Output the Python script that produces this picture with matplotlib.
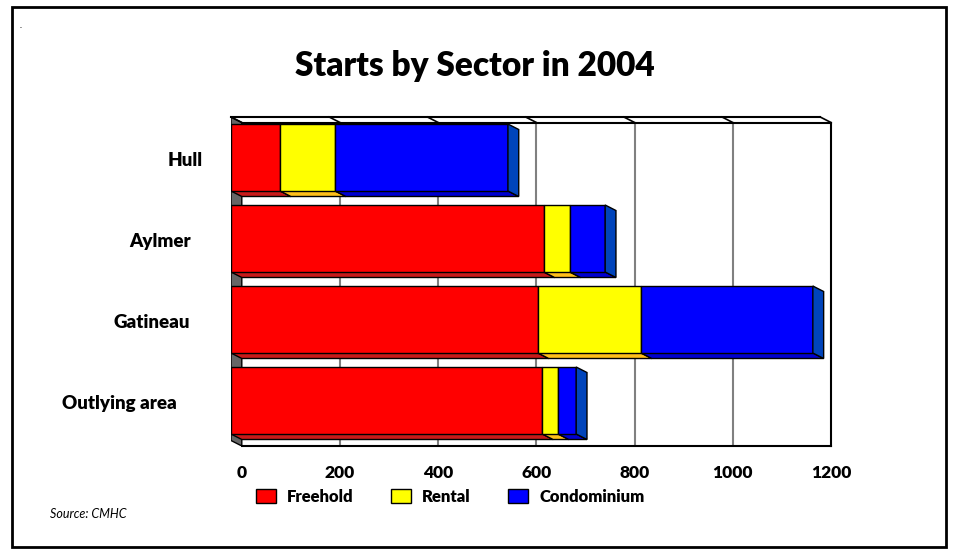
import numpy as np
import matplotlib
matplotlib.use('Agg')
from matplotlib import pyplot as plt
from matplotlib.patches import Polygon, Rectangle
import matplotlib.transforms as mtransforms

# data
regions = ['Hull', 'Aylmer', 'Gatineau', 'Outlying area']
freehold = [100, 637, 625, 634]
rental = [112, 53, 210, 32]
condo = [352, 72, 350, 37]
series_names = ['Freehold', 'Rental', 'Condominium']
x_ticks = [0, 200, 400, 600, 800, 1000, 1200]

# styling
front_cols = ['#ff0000', '#ffff00', '#0000ff']
bottom_cols = ['#c81a1a', '#ffbf1a', '#0000d0']
side_col = '#0044bb'
wall_col = '#666666'
DX = 22        # depth offset, x units
DY = 0.068     # depth offset, y units (downwards)
BAR_H = 0.827
label_right_px = [203, 191, 190, 177]
WEIGHT = 'heavy'

plt.rcParams['font.family'] = ['Lato', 'DejaVu Sans']

W, H = 956, 554
fig = plt.figure(figsize=(W / 100, H / 100), dpi=100)
ax = fig.add_axes([231 / W, (H - 446) / H, (832 - 231) / W, (446 - 117) / H])

ypos = np.arange(len(regions))[::-1].astype(float)
ytop, ybot = 3.5, -0.5617
ax.set_xlim(0, 1224)
ax.set_ylim(ybot, ytop)

xmax = x_ticks[-1]
# back wall gridlines
for v in x_ticks[1:-1]:
    ax.plot([v + DX, v + DX], [ybot, ytop - DY], color='#808080', lw=1.5, zorder=1)
# left wall
ax.add_patch(Polygon([(0, ybot + DY), (0, ytop), (DX, ytop - DY), (DX, ybot)],
                     closed=True, facecolor=wall_col, edgecolor='black', lw=1, zorder=1))
# box edges
ax.plot([0, xmax], [ytop, ytop], color='black', lw=1.5, zorder=1, clip_on=False)
ax.plot([DX, xmax + DX], [ytop - DY, ytop - DY], color='black', lw=1.5, zorder=1, clip_on=False)
for v in x_ticks:
    ax.plot([v, v + DX], [ytop, ytop - DY], color='black', lw=1.2, zorder=1, clip_on=False)
ax.plot([xmax + DX, xmax + DX], [ytop - DY, ybot], color='black', lw=1.5, zorder=1, clip_on=False)
ax.plot([DX, xmax + DX], [ybot, ybot], color='black', lw=1.5, zorder=1, clip_on=False)

# bars
left = np.zeros(len(regions))
handles = []
for vals, fc, bc, name in zip([freehold, rental, condo], front_cols, bottom_cols, series_names):
    vals = np.array(vals, dtype=float)
    for y, l, w in zip(ypos, left, vals):
        yb = y - BAR_H / 2
        ax.add_patch(Polygon([(l, yb), (l + w, yb), (l + w + DX, yb - DY), (l + DX, yb - DY)],
                             closed=True, facecolor=bc, edgecolor='black', lw=1, zorder=2))
    bars = ax.barh(ypos, vals, left=left, height=BAR_H, color=fc, edgecolor='black',
                   lw=1, zorder=3, label=name)
    handles.append(bars)
    left = left + vals

# right side faces
for y, tot in zip(ypos, left):
    yb, yt = y - BAR_H / 2, y + BAR_H / 2
    ax.add_patch(Polygon([(tot, yb), (tot, yt), (tot + DX, yt - DY), (tot + DX, yb - DY)],
                         closed=True, facecolor=side_col, edgecolor='black', lw=1, zorder=3))

for s in ax.spines.values():
    s.set_visible(False)
ax.set_yticks([])
ax.set_xticks(np.array(x_ticks) + DX, labels=[str(v) for v in x_ticks])
ax.tick_params(axis='x', length=0, pad=14, labelsize=12.5)
for t in ax.get_xticklabels():
    t.set_fontweight(WEIGHT)

# category labels
trans = mtransforms.blended_transform_factory(fig.transFigure, ax.transData)
for name, y, xr in zip(regions, ypos, label_right_px):
    fig.text(xr / W, y - 0.035, name, transform=trans, ha='right', va='center',
             fontsize=13.5, fontweight=WEIGHT)

fig.text(475 / W, 1 - 66 / H, 'Starts by Sector in 2004', ha='center', va='center',
         fontsize=24, fontweight=WEIGHT)

fig.legend(handles=handles, loc='center', bbox_to_anchor=(450 / W, 1 - 497 / H),
           ncol=3, frameon=False, handlelength=1.2, handleheight=0.95,
           handletextpad=0.7, columnspacing=2.2,
           prop={'size': 12, 'weight': WEIGHT})

fig.text(50 / W, 1 - 514 / H, 'Source: CMHC', fontsize=9, style='italic', va='center')
fig.text(20 / W, 1 - 28 / H, '.', fontsize=6)

fig.patches.append(Rectangle((12 / W, 7 / H), 934 / W, 540 / H, transform=fig.transFigure,
                             fill=False, edgecolor='black', lw=2))

fig.savefig('out.png', dpi=100)
